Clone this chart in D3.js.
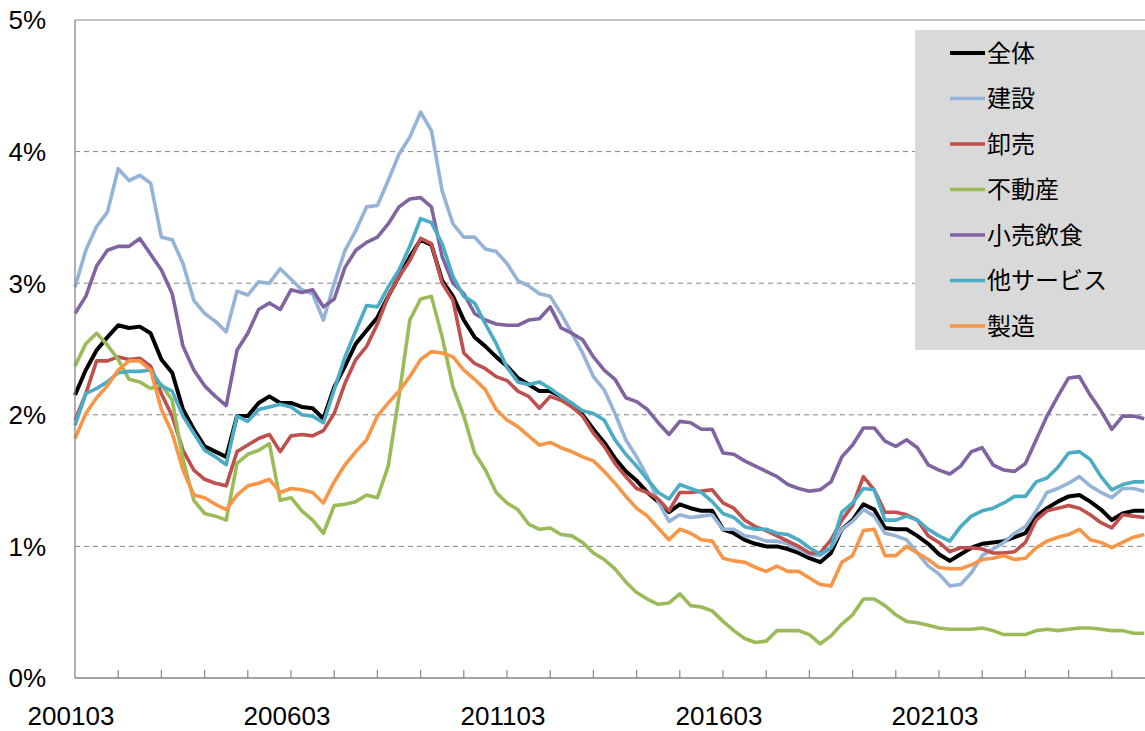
<!DOCTYPE html>
<html>
<head>
<meta charset="utf-8">
<script src="https://cdn.jsdelivr.net/npm/d3@7"></script>
<style>
    body { margin: 0; background: #fff; }
    svg { display: block; }
</style>
</head>
<body>
<svg id="chart" width="1145" height="731"></svg>
<script>
// quarterly observations, first one is 2001/03
const startYear = 2001;
const startMonth = 3;
const quarterCount = 100;

const yTicks = [0, 1, 2, 3, 4, 5];
const xLabelMonths = [0, 60, 120, 180, 240];

const seriesNames = ["全体", "建設", "卸売", "不動産", "小売飲食", "他サービス", "製造"];
const seriesColors = ["#000000", "#95B3D7", "#C0504D", "#9BBB59", "#8064A2", "#4BACC6", "#F79646"];

const zentai = [
    2.15, 2.34, 2.49, 2.59, 2.68, 2.66, 2.67, 2.62, 2.42, 2.32, 2.04, 1.89, 1.76, 1.72, 1.68, 1.99, 1.99, 2.09, 2.14, 2.09,
    2.09, 2.06, 2.05, 1.97, 2.21, 2.37, 2.54, 2.64, 2.74, 2.90, 3.05, 3.20, 3.33, 3.29, 3.02, 2.90, 2.72, 2.59, 2.52, 2.44,
    2.37, 2.28, 2.23, 2.18, 2.18, 2.14, 2.08, 2.00, 1.89, 1.79, 1.67, 1.57, 1.50, 1.41, 1.34, 1.26, 1.32, 1.29, 1.27, 1.27,
    1.13, 1.10, 1.05, 1.02, 1.00, 1.00, 0.98, 0.95, 0.91, 0.88, 0.95, 1.13, 1.20, 1.32, 1.28, 1.14, 1.13, 1.13, 1.08, 1.02,
    0.94, 0.89, 0.94, 0.99, 1.02, 1.03, 1.04, 1.07, 1.10, 1.23, 1.29, 1.34, 1.38, 1.39, 1.34, 1.28, 1.20, 1.25, 1.27, 1.27
];
const kensetsu = [
    2.97, 3.25, 3.43, 3.54, 3.87, 3.78, 3.82, 3.76, 3.35, 3.33, 3.15, 2.87, 2.77, 2.71, 2.63, 2.94, 2.91, 3.01, 3.00, 3.11,
    3.03, 2.95, 2.92, 2.72, 3.00, 3.25, 3.40, 3.58, 3.59, 3.78, 3.98, 4.11, 4.30, 4.16, 3.70, 3.45, 3.35, 3.35, 3.26, 3.24,
    3.15, 3.02, 2.98, 2.92, 2.90, 2.77, 2.62, 2.47, 2.29, 2.19, 2.01, 1.81, 1.68, 1.53, 1.34, 1.19, 1.24, 1.22, 1.23, 1.24,
    1.13, 1.13, 1.08, 1.07, 1.04, 1.04, 1.02, 0.98, 0.94, 0.93, 0.99, 1.13, 1.19, 1.28, 1.23, 1.10, 1.08, 1.05, 0.95, 0.85,
    0.79, 0.70, 0.71, 0.80, 0.93, 0.98, 1.03, 1.10, 1.15, 1.27, 1.41, 1.44, 1.48, 1.53, 1.46, 1.41, 1.37, 1.44, 1.44, 1.42
];
const oroshi = [
    1.96, 2.16, 2.41, 2.41, 2.44, 2.42, 2.43, 2.37, 2.16, 1.99, 1.73, 1.58, 1.51, 1.48, 1.46, 1.72, 1.77, 1.82, 1.85, 1.72,
    1.84, 1.85, 1.84, 1.88, 2.01, 2.24, 2.42, 2.52, 2.69, 2.90, 3.05, 3.17, 3.34, 3.30, 3.00, 2.87, 2.47, 2.39, 2.35, 2.29,
    2.26, 2.18, 2.14, 2.05, 2.14, 2.11, 2.06, 1.99, 1.86, 1.76, 1.63, 1.53, 1.44, 1.41, 1.36, 1.27, 1.41, 1.41, 1.42, 1.43,
    1.33, 1.29, 1.20, 1.15, 1.12, 1.08, 1.04, 1.00, 0.95, 0.95, 1.05, 1.20, 1.31, 1.53, 1.43, 1.26, 1.26, 1.24, 1.20, 1.08,
    1.03, 0.96, 0.99, 0.99, 0.98, 0.95, 0.95, 0.96, 1.03, 1.20, 1.27, 1.29, 1.31, 1.29, 1.24, 1.18, 1.14, 1.24, 1.23, 1.22
];
const fudousan = [
    2.37, 2.54, 2.62, 2.53, 2.42, 2.27, 2.25, 2.20, 2.23, 2.11, 1.66, 1.35, 1.25, 1.23, 1.20, 1.63, 1.70, 1.73, 1.78, 1.35,
    1.37, 1.27, 1.20, 1.10, 1.31, 1.32, 1.34, 1.39, 1.37, 1.61, 2.14, 2.72, 2.88, 2.90, 2.59, 2.21, 1.99, 1.71, 1.58, 1.41,
    1.33, 1.28, 1.17, 1.13, 1.14, 1.09, 1.08, 1.03, 0.95, 0.90, 0.83, 0.73, 0.65, 0.60, 0.56, 0.57, 0.64, 0.55, 0.54, 0.51,
    0.43, 0.36, 0.30, 0.27, 0.28, 0.36, 0.36, 0.36, 0.33, 0.26, 0.32, 0.41, 0.48, 0.60, 0.60, 0.55, 0.48, 0.43, 0.42, 0.40,
    0.38, 0.37, 0.37, 0.37, 0.38, 0.36, 0.33, 0.33, 0.33, 0.36, 0.37, 0.36, 0.37, 0.38, 0.38, 0.37, 0.36, 0.36, 0.34, 0.34
];
const kouri = [
    2.77, 2.90, 3.13, 3.25, 3.28, 3.28, 3.34, 3.22, 3.10, 2.92, 2.52, 2.34, 2.22, 2.14, 2.07, 2.49, 2.62, 2.80, 2.85, 2.80,
    2.95, 2.93, 2.95, 2.82, 2.88, 3.12, 3.25, 3.31, 3.35, 3.45, 3.58, 3.64, 3.65, 3.58, 3.20, 3.00, 2.92, 2.77, 2.72, 2.69,
    2.68, 2.68, 2.72, 2.73, 2.82, 2.66, 2.62, 2.57, 2.44, 2.34, 2.27, 2.13, 2.10, 2.04, 1.94, 1.85, 1.95, 1.94, 1.89, 1.89,
    1.71, 1.70, 1.65, 1.61, 1.57, 1.53, 1.47, 1.44, 1.42, 1.43, 1.49, 1.68, 1.77, 1.90, 1.90, 1.80, 1.76, 1.81, 1.75, 1.62,
    1.58, 1.55, 1.61, 1.72, 1.75, 1.62, 1.58, 1.57, 1.63, 1.81, 1.99, 2.14, 2.28, 2.29, 2.15, 2.03, 1.89, 1.99, 1.99, 1.97
];
const taService = [
    1.92, 2.16, 2.20, 2.25, 2.32, 2.33, 2.33, 2.34, 2.22, 2.18, 1.99, 1.86, 1.73, 1.68, 1.62, 1.99, 1.95, 2.04, 2.06, 2.08,
    2.06, 2.00, 1.99, 1.94, 2.19, 2.44, 2.64, 2.83, 2.82, 2.97, 3.10, 3.28, 3.49, 3.46, 3.30, 3.05, 2.90, 2.85, 2.69, 2.54,
    2.36, 2.25, 2.23, 2.25, 2.20, 2.14, 2.09, 2.03, 2.01, 1.96, 1.81, 1.70, 1.61, 1.51, 1.41, 1.36, 1.47, 1.44, 1.41, 1.34,
    1.25, 1.22, 1.15, 1.13, 1.13, 1.10, 1.09, 1.05, 0.99, 0.94, 0.99, 1.26, 1.33, 1.44, 1.43, 1.20, 1.20, 1.23, 1.20, 1.13,
    1.08, 1.04, 1.15, 1.23, 1.27, 1.29, 1.33, 1.38, 1.38, 1.49, 1.52, 1.60, 1.71, 1.72, 1.66, 1.53, 1.43, 1.47, 1.49, 1.49
];
const seizou = [
    1.82, 2.01, 2.13, 2.22, 2.34, 2.41, 2.41, 2.34, 2.04, 1.86, 1.58, 1.39, 1.37, 1.32, 1.28, 1.39, 1.46, 1.48, 1.51, 1.41,
    1.44, 1.43, 1.41, 1.33, 1.49, 1.62, 1.72, 1.81, 1.99, 2.09, 2.18, 2.29, 2.42, 2.48, 2.47, 2.44, 2.34, 2.27, 2.19, 2.04,
    1.96, 1.91, 1.84, 1.77, 1.79, 1.75, 1.72, 1.68, 1.65, 1.57, 1.48, 1.38, 1.29, 1.23, 1.14, 1.05, 1.13, 1.10, 1.05, 1.04,
    0.91, 0.89, 0.88, 0.84, 0.81, 0.85, 0.81, 0.81, 0.76, 0.71, 0.70, 0.88, 0.93, 1.12, 1.13, 0.93, 0.93, 1.00, 0.95, 0.90,
    0.84, 0.83, 0.83, 0.86, 0.90, 0.91, 0.93, 0.90, 0.91, 0.99, 1.04, 1.07, 1.09, 1.13, 1.05, 1.03, 0.99, 1.03, 1.07, 1.09
];

const seriesValues = [zentai, kensetsu, oroshi, fudousan, kouri, taService, seizou];

// month offset of each quarterly point from 2001/03
const monthIdx = d3.range(quarterCount).map(i => i * 3);
function monthLabel(m) {
    const t = startMonth - 1 + m;
    return String(startYear + Math.floor(t / 12)) + String(t % 12 + 1).padStart(2, "0");
}

const svg = d3.select("#chart");
const plotLeft = 75, plotTop = 20, plotBottom = 678, plotRight = 1145;

const x = d3.scaleLinear().domain([0, 300]).range([plotLeft, plotLeft + 1080]);
const y = d3.scaleLinear().domain([0, 5]).range([plotBottom, plotTop]);

const font = "'Liberation Sans', Arial, sans-serif";

// gridlines
svg.append("g").selectAll("line").data(yTicks.filter(v => v > 0 && v < 5)).join("line")
    .attr("x1", plotLeft).attr("x2", plotRight)
    .attr("y1", d => y(d)).attr("y2", d => y(d))
    .attr("stroke", "#868686").attr("stroke-width", 1).attr("stroke-dasharray", "5,4");

svg.append("line").attr("x1", plotLeft).attr("x2", plotRight).attr("y1", y(5)).attr("y2", y(5))
    .attr("stroke", "#868686").attr("stroke-width", 1);

// y labels
svg.append("g").selectAll("text").data(yTicks).join("text")
    .attr("x", 46).attr("y", d => y(d))
    .attr("dy", "0.36em")
    .attr("text-anchor", "end")
    .attr("font-family", font).attr("font-size", "26px").attr("fill", "#000")
    .text(d => d + "%");

// lines
const line = d3.line().x((d, i) => x(monthIdx[i])).y(d => y(d));
svg.append("g").selectAll("path").data(seriesValues).join("path")
    .attr("d", d => line(d))
    .attr("fill", "none")
    .attr("stroke", (d, i) => seriesColors[i])
    .attr("stroke-width", (d, i) => i === 0 ? 4 : 3.6)
    .attr("stroke-linejoin", "round");

// axes
svg.append("line").attr("x1", plotLeft).attr("x2", plotLeft).attr("y1", plotTop).attr("y2", plotBottom)
    .attr("stroke", "#868686").attr("stroke-width", 1.3);
svg.append("line").attr("x1", plotLeft).attr("x2", plotRight).attr("y1", plotBottom).attr("y2", plotBottom)
    .attr("stroke", "#868686").attr("stroke-width", 1.3);

svg.append("g").selectAll("line").data(d3.range(12, 300, 12)).join("line")
    .attr("x1", d => x(d)).attr("x2", d => x(d))
    .attr("y1", plotBottom - 8).attr("y2", plotBottom)
    .attr("stroke", "#868686").attr("stroke-width", 1.2);

svg.append("g").selectAll("text").data(xLabelMonths).join("text")
    .attr("x", d => x(d) - 4).attr("y", 725)
    .attr("text-anchor", "middle")
    .attr("font-family", font).attr("font-size", "26px").attr("fill", "#000")
    .text(d => monthLabel(d));

// legend
const legend = svg.append("g");
legend.append("rect").attr("x", 915).attr("y", 30).attr("width", 250).attr("height", 320).attr("fill", "#D9D9D9");
const items = legend.selectAll("g").data(seriesNames).join("g")
    .attr("transform", (d, i) => `translate(950, ${53 + i * 45.5})`);
items.append("line").attr("x1", 0).attr("x2", 35).attr("y1", 0).attr("y2", 0)
    .attr("stroke", (d, i) => seriesColors[i]).attr("stroke-width", (d, i) => i === 0 ? 4 : 3.6);
items.append("text").attr("x", 37).attr("y", 0).attr("dy", "0.36em")
    .attr("font-family", "'Noto Sans CJK JP', sans-serif").attr("font-size", "24px").attr("fill", "#000")
    .text(d => d);
</script>
</body>
</html>
